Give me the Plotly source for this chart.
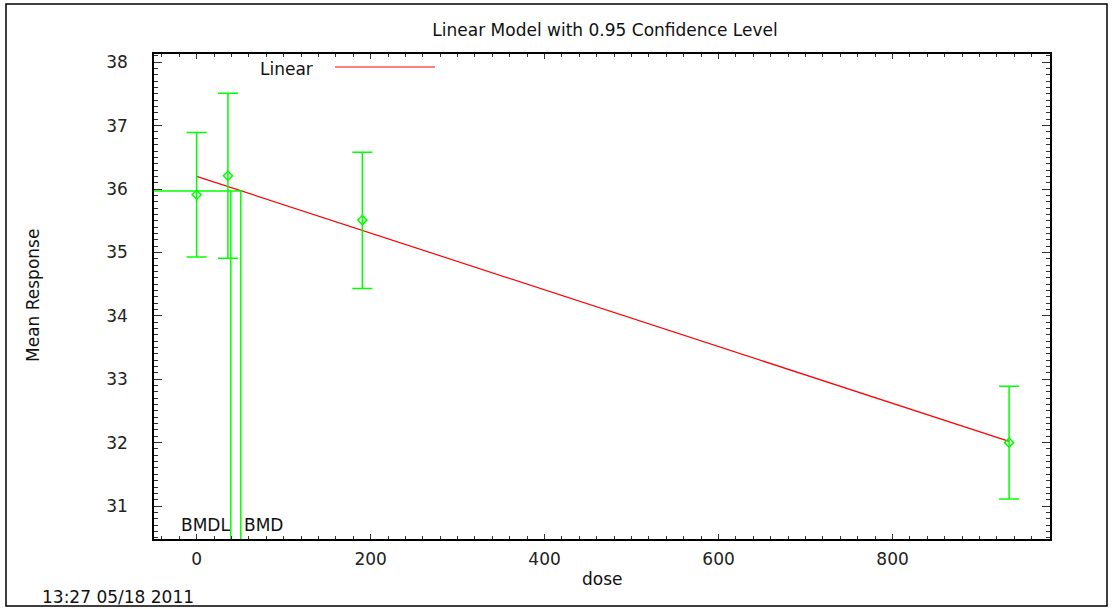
import plotly.graph_objects as go

# Data
dose = [0, 36, 190.5, 934]
mean_resp = [35.91, 36.21, 35.51, 32.0]
ci_lower = [34.93, 34.91, 34.43, 31.11]
ci_upper = [36.89, 37.51, 36.58, 32.89]

# Fitted linear model: intercept and slope
intercept = 36.2
slope = -0.004475
model_dose = [0, 934]

bmd = 50.8
bmdl = 39.3
bmd_response = 35.97

x_range = [-49, 981]
y_range = [30.48, 38.13]

x_ticks = [0, 200, 400, 600, 800]
y_ticks = [31, 32, 33, 34, 35, 36, 37, 38]

FONT = "DejaVu Sans"
GREEN = "#00FF00"
FS = 17

L, R, T, B = 154, 62, 54, 70
W, H = 1112, 609
PW, PH = W - L - R, H - T - B


def px(xp):
    return (xp - L) / PW


def py(yp):
    return (H - B - yp) / PH


fig = go.Figure()

# Model line
fig.add_trace(go.Scatter(
    x=model_dose,
    y=[intercept + slope * d for d in model_dose],
    mode="lines", line=dict(color="#FF0000", width=1.2),
    showlegend=False, hoverinfo="skip"))

# Data with confidence intervals
fig.add_trace(go.Scatter(
    x=dose, y=mean_resp, mode="markers",
    marker=dict(symbol="diamond-open", size=7, color=GREEN, line=dict(width=1.5, color=GREEN)),
    error_y=dict(type="data", symmetric=False,
                 array=[u - m for u, m in zip(ci_upper, mean_resp)],
                 arrayminus=[m - l for m, l in zip(mean_resp, ci_lower)],
                 color=GREEN, thickness=1.5, width=10),
    showlegend=False))

# BMD / BMDL lines
fig.add_trace(go.Scatter(
    x=[x_range[0], bmd, bmd, None, bmdl, bmdl],
    y=[bmd_response, bmd_response, y_range[0], None, y_range[0], bmd_response],
    mode="lines", line=dict(color=GREEN, width=1.5),
    showlegend=False, hoverinfo="skip"))

axis_common = dict(
    showline=True, linecolor="black", linewidth=1.5, mirror="ticks",
    ticks="inside", tickcolor="#333", showgrid=False, zeroline=False,
    tickfont=dict(family=FONT, size=FS, color="#222"),
)

fig.update_xaxes(range=x_range, tickvals=x_ticks, ticklen=5, tickwidth=1,
                 minor=dict(dtick=20, ticks="inside", ticklen=3, tickcolor="#333", showgrid=False),
                 ticklabelstandoff=4, **axis_common)
fig.update_yaxes(range=y_range, tickvals=y_ticks, ticklen=8, tickwidth=1,
                 minor=dict(dtick=0.1, ticks="inside", ticklen=4, tickcolor="#333", showgrid=False),
                 ticklabelstandoff=21, **axis_common)

annots = [
    dict(text="Mean Response", x=px(33), y=py(296), textangle=-90),
    dict(text="dose", x=px(602), y=py(579)),
    dict(text="13:27 05/18 2011", x=px(40), y=py(597), xanchor="left"),
    dict(text="Linear", x=px(258), y=py(69), xanchor="left"),
]
for a in annots:
    a.setdefault("xanchor", "center")
    fig.add_annotation(xref="paper", yref="paper", showarrow=False, yanchor="middle",
                       font=dict(family=FONT, size=FS, color="#111"), **a)

fig.add_annotation(text="BMDL", x=bmdl, xref="x", y=py(525), yref="paper", xanchor="right",
                   yanchor="middle", xshift=1, showarrow=False,
                   font=dict(family=FONT, size=FS, color="#111"))
fig.add_annotation(text="BMD", x=bmd, xref="x", y=py(525), yref="paper", xanchor="left",
                   yanchor="middle", xshift=1, showarrow=False,
                   font=dict(family=FONT, size=FS, color="#111"))

# legend sample line
fig.add_shape(type="line", xref="paper", yref="paper", x0=px(335), x1=px(435),
              y0=py(67), y1=py(67), line=dict(color="#FF0000", width=1.2))
# outer frame
fig.add_shape(type="rect", xref="paper", yref="paper", x0=px(6), x1=px(1107),
              y0=py(606), y1=py(4), line=dict(color="black", width=1.5))

fig.update_layout(
    width=W, height=H,
    margin=dict(l=L, r=R, t=T, b=B),
    paper_bgcolor="white", plot_bgcolor="white",
    title=dict(text="Linear Model with 0.95 Confidence Level", x=605 / W, xanchor="center",
               y=1 - 30 / H, yanchor="middle", yref="container",
               font=dict(family=FONT, size=FS, color="#111")),
    showlegend=False,
)

fig.write_html("out.html")
